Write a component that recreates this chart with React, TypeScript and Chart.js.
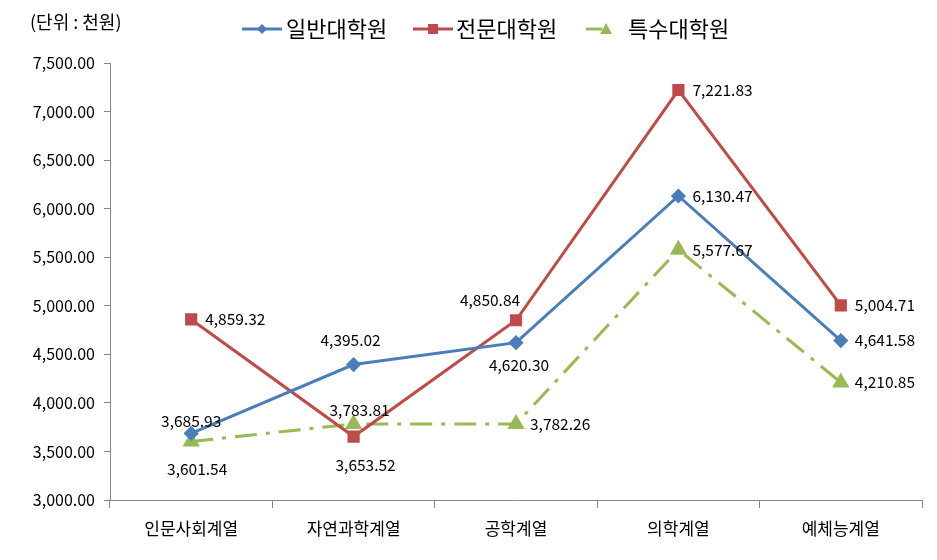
import React, { useEffect, useRef } from "react";
import { Chart, registerables } from "chart.js";

Chart.register(...registerables);

const categories = ["인문사회계열", "자연과학계열", "공학계열", "의학계열", "예체능계열"];
const seriesNames = ["일반대학원", "전문대학원", "특수대학원"];
const general = [3685.93, 4395.02, 4620.3, 6130.47, 4641.58];
const professional = [4859.32, 3653.52, 4850.84, 7221.83, 5004.71];
const special = [3601.54, 3783.81, 3782.26, 5577.67, 4210.85];
const unitLabel = "(단위 : 천원)";
const yMin = 3000;
const yMax = 7500;
const yStep = 500;

// label placement per point (style): [align, dx, dy]
const labelPlace: [CanvasTextAlign, number, number][][] = [
  [["center", 0, -12], ["center", -3, -24], ["center", 3, 22], ["left", 14, 0], ["left", 14, 0]],
  [["left", 14, 0], ["center", 12, 29], ["center", -26, -20], ["left", 14, 0], ["left", 14, 0]],
  [["center", 6, 28], ["center", 6, -14], ["left", 14, 0], ["left", 14, 0], ["left", 14, 0]],
];

const COLORS = ["#4a7ebb", "#be4b48", "#98b954"];
const FONT = "'Noto Sans CJK KR', 'Noto Sans', sans-serif";

const fmt = (v: number) =>
  v.toLocaleString("en-US", { minimumFractionDigits: 2, maximumFractionDigits: 2 });

const labelsPlugin = {
  id: "pointLabels",
  afterDatasetsDraw(chart: any) {
    const ctx = chart.ctx;
    ctx.save();
    ctx.font = `15.5px ${FONT}`;
    ctx.fillStyle = "#000";
    ctx.textBaseline = "middle";
    chart.data.datasets.forEach((ds: any, di: number) => {
      const meta = chart.getDatasetMeta(di);
      meta.data.forEach((pt: any, i: number) => {
        const [align, dx, dy] = labelPlace[di][i];
        ctx.textAlign = align;
        ctx.fillText(fmt(ds.data[i]), pt.x + dx, pt.y + dy);
      });
    });
    ctx.restore();
  },
};

const legendPlugin = {
  id: "customLegend",
  afterDraw(chart: any) {
    const ctx = chart.ctx;
    ctx.save();
    ctx.font = `18px ${FONT}`;
    ctx.fillStyle = "#000";
    ctx.textAlign = "left";
    ctx.textBaseline = "middle";
    ctx.fillText(unitLabel, 30, 22);

    const items = [
      { lx: 242, tx: 286 },
      { lx: 413, tx: 456 },
      { lx: 582, tx: 628 },
    ];
    const y = 29;
    items.forEach((it, i) => {
      const c = COLORS[i];
      ctx.strokeStyle = c;
      ctx.fillStyle = c;
      ctx.lineWidth = 3;
      ctx.setLineDash([]);
      ctx.beginPath();
      if (i === 2) {
        ctx.moveTo(it.lx + 4, y);
        ctx.lineTo(it.lx + 20, y);
      } else {
        ctx.moveTo(it.lx, y);
        ctx.lineTo(it.lx + 40, y);
      }
      ctx.stroke();
      const mx = it.lx + 20;
      ctx.beginPath();
      if (i === 0) {
        ctx.moveTo(mx, y - 5);
        ctx.lineTo(mx + 5, y);
        ctx.lineTo(mx, y + 5);
        ctx.lineTo(mx - 5, y);
        ctx.closePath();
        ctx.fill();
      } else if (i === 1) {
        ctx.fillRect(mx - 5, y - 5, 10, 10);
      } else {
        ctx.moveTo(mx + 4, y - 6);
        ctx.lineTo(mx + 10, y + 5);
        ctx.lineTo(mx - 2, y + 5);
        ctx.closePath();
        ctx.fill();
      }
      ctx.fillStyle = "#000";
      ctx.font = `22px ${FONT}`;
      ctx.fillText(seriesNames[i], it.tx, y);
    });
    ctx.restore();
  },
};

export default function App() {
  const ref = useRef<HTMLCanvasElement>(null);
  useEffect(() => {
    if (!ref.current) return;
    const chart = new Chart(ref.current, {
      type: "line",
      data: {
        labels: categories,
        datasets: [
          {
            label: seriesNames[0],
            data: general,
            borderColor: COLORS[0],
            backgroundColor: COLORS[0],
            borderWidth: 3,
            pointStyle: "rectRot",
            pointRadius: 5.5,
            pointHoverRadius: 5.5,
            tension: 0,
          },
          {
            label: seriesNames[1],
            data: professional,
            borderColor: COLORS[1],
            backgroundColor: COLORS[1],
            borderWidth: 3,
            pointStyle: "rect",
            pointRadius: 6.5,
            pointHoverRadius: 6.5,
            tension: 0,
          },
          {
            label: seriesNames[2],
            data: special,
            borderColor: COLORS[2],
            backgroundColor: COLORS[2],
            borderWidth: 3,
            borderDash: [22, 9, 4, 9],
            pointStyle: "triangle",
            pointRadius: 7,
            pointHoverRadius: 7,
            tension: 0,
          },
        ],
      },
      options: {
        animation: false,
        responsive: false,
        maintainAspectRatio: false,
        layout: { padding: { top: 63, right: 15, left: 0, bottom: 0 } },
        plugins: {
          legend: { display: false },
          tooltip: { enabled: false },
        },
        scales: {
          x: {
            offset: true,
            grid: {
              offset: true,
              drawOnChartArea: false,
              drawTicks: true,
              tickLength: 8,
              color: "#868686",
            },
            border: { color: "#868686", width: 1 },
            ticks: {
              color: "#000",
              font: { family: FONT, size: 17 },
              padding: 10,
              maxRotation: 0,
            },
            afterFit(scale: any) {
              scale.height = 60;
            },
          },
          y: {
            min: yMin,
            max: yMax,
            grid: {
              drawOnChartArea: false,
              drawTicks: true,
              tickLength: 6,
              color: "#868686",
            },
            border: { color: "#868686", width: 1 },
            ticks: {
              stepSize: yStep,
              color: "#000",
              font: { family: FONT, size: 16 },
              padding: 9,
              callback: (v: any) => fmt(Number(v)),
            },
            afterFit(scale: any) {
              scale.width = 110;
            },
          },
        },
      },
      plugins: [labelsPlugin, legendPlugin],
    });
    return () => chart.destroy();
  }, []);
  return (
    <div style={{ position: "fixed", left: 0, top: 0, width: 937, height: 560, background: "#fff" }}>
      <canvas ref={ref} width={937} height={560} style={{ width: 937, height: 560 }} />
    </div>
  );
}
